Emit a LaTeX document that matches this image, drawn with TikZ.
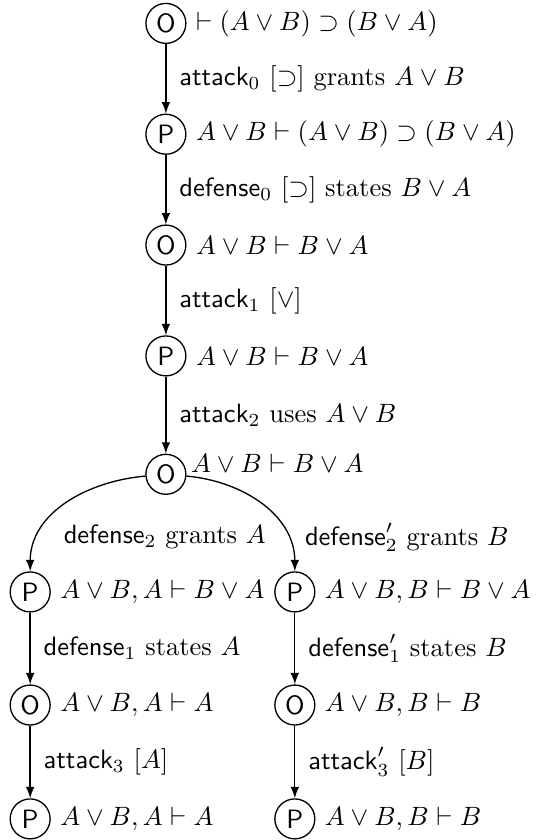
\documentclass[tikz,border=0pt]{standalone}
\usepackage{tikz}
\usetikzlibrary{positioning}
\newcommand{\mv}[1]{\textsf{#1}}

\begin{document}
\begin{tikzpicture}[>=latex, line width=0.5pt,
  pl/.style={draw, circle, inner sep=0pt, minimum size=0.53cm, font=\sffamily},
  seq/.style={anchor=west},
  mv/.style={right, xshift=1.5pt}]
\useasboundingbox (0,0) rectangle (7.11,-11.14);

% main line
\draw(2.2,-0.31) node[pl] (O1) {O};
\draw(2.2,-1.78) node[pl] (P1) {P};
\draw(2.2,-3.25) node[pl] (O2) {O};
\draw(2.2,-4.72) node[pl] (P2) {P};
\draw(2.2,-6.29) node[pl] (O3) {O};
\draw(O1.east) node[seq] (s1) {$\vdash (A \vee B) \supset (B \vee A)$};
\draw(P1.east) node[seq] (s2) {$A \vee B \vdash (A \vee B) \supset (B \vee A)$};
\draw(O2.east) node[seq] (s3) {$A \vee B \vdash B \vee A$};
\draw(P2.east) node[seq] (s4) {$A \vee B \vdash B \vee A$};
\draw(O3.east) node[seq, yshift=4pt, inner sep=1.5pt] (s5) {$A \vee B \vdash B \vee A$};

% left branch
\draw(0.4,-7.85) node[pl] (PL1) {P};
\draw(0.4,-9.35) node[pl] (OL) {O};
\draw(0.4,-10.86) node[pl] (PL2) {P};
\draw(PL1.east) node[seq] (l1) {$A \vee B, A \vdash B \vee A$};
\draw(OL.east) node[seq] (l2) {$A \vee B, A \vdash A$};
\draw(PL2.east) node[seq] (l3) {$A \vee B, A \vdash A$};

% right branch
\draw(3.91,-7.85) node[pl] (PR1) {P};
\draw(3.91,-9.35) node[pl] (OR) {O};
\draw(3.91,-10.86) node[pl] (PR2) {P};
\draw(PR1.east) node[seq] (r1) {$A \vee B, B \vdash B \vee A$};
\draw(OR.east) node[seq] (r2) {$A \vee B, B \vdash B$};
\draw(PR2.east) node[seq] (r3) {$A \vee B, B \vdash B$};

\draw[->] (O1) -- (P1) node[midway, mv] {$\mv{attack}_0$ $[\supset]$ grants $A \vee B$};
\draw[->] (P1) -- (O2) node[midway, mv] {$\mv{defense}_0$ $[\supset]$ states $B \vee A$};
\draw[->] (O2) -- (P2) node[midway, mv] {$\mv{attack}_1$ $[\vee]$};
\draw[->] (P2) -- (O3) node[midway, mv] {$\mv{attack}_2$ uses $A \vee B$};

\draw[->] (O3) to[out=185, in=90] node[pos=0.72, mv, xshift=3pt, yshift=-3pt] {$\mv{defense}_2$ grants $A$} (PL1);
\draw[->] (O3) to[out=-5, in=90] node[pos=0.72, mv, xshift=3pt, yshift=-3pt] {$\mv{defense}'_2$ grants $B$} (PR1);

\draw[->] (PL1) -- (OL) node[midway, mv] {$\mv{defense}_1$ states $A$};
\draw[->] (OL) -- (PL2) node[midway, mv] {$\mv{attack}_3$ $[A]$};
\draw[->] (PR1) -- (OR) node[midway, mv] {$\mv{defense}'_1$ states $B$};
\draw[->] (OR) -- (PR2) node[midway, mv] {$\mv{attack}'_3$ $[B]$};

\end{tikzpicture}
\end{document}
